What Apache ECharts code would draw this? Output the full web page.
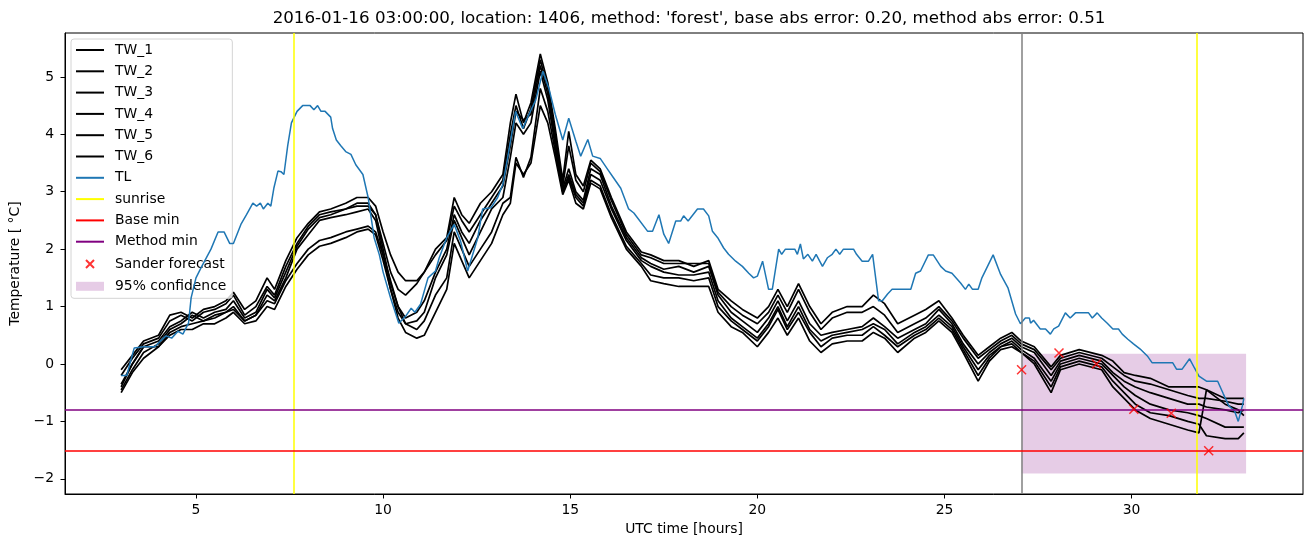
<!DOCTYPE html>
<html><head><meta charset="utf-8">
<script src="https://cdn.jsdelivr.net/npm/echarts@6/dist/echarts.min.js"></script>
<style>html,body{margin:0;padding:0;background:#fff}#c{width:1313px;height:547px}</style>
</head><body><div id="c"></div>
<script>
// ---------- data ----------
const titleText = "2016-01-16 03:00:00, location: 1406, method: 'forest', base abs error: 0.20, method abs error: 0.51";
const xTicks = [5, 10, 15, 20, 25, 30];
const yTicks = [-2, -1, 0, 1, 2, 3, 4, 5];

const twTime = [3.0,3.3,3.6,4.0,4.3,4.6,4.9,5.2,5.5,5.8,6.0,6.3,6.6,6.9,7.1,7.4,7.7,8.0,8.3,8.6,9.0,9.3,9.6,9.8,10.0,10.2,10.4,10.6,10.9,11.1,11.4,11.7,11.9,12.1,12.3,12.6,12.9,13.2,13.4,13.55,13.75,13.95,14.2,14.4,14.6,14.8,14.96,15.15,15.35,15.55,15.8,16.1,16.5,16.9,17.15,17.5,17.9,18.3,18.7,18.95,19.3,19.6,20.0,20.3,20.55,20.8,21.1,21.4,21.7,22.0,22.4,22.8,23.1,23.4,23.75,24.2,24.5,24.85,25.2,25.5,25.9,26.2,26.5,26.8,27.05,27.4,27.85,28.1,28.6,29.2,29.5,29.8,30.1,30.5,31.0,31.5,31.8,32.0,32.5,32.85,33.0];
const tw1 = [-0.1,0.15,0.4,0.5,0.85,0.9,0.8,0.95,1.0,1.1,1.25,0.95,1.1,1.5,1.3,1.8,2.2,2.45,2.65,2.7,2.8,2.9,2.9,2.75,2.3,1.9,1.6,1.45,1.45,1.6,2.0,2.2,2.9,2.6,2.45,2.8,3.0,3.3,4.2,4.7,4.2,4.55,5.4,4.9,4.1,3.2,4.05,3.3,3.1,3.55,3.4,2.9,2.3,1.95,1.9,1.8,1.8,1.7,1.8,1.3,1.1,0.95,0.8,1.0,1.3,1.0,1.4,1.0,0.7,0.9,1.0,1.0,1.2,1.05,0.7,0.85,0.95,1.1,0.8,0.5,0.15,0.3,0.45,0.55,0.4,0.3,-0.05,0.15,0.25,0.15,0.05,-0.15,-0.2,-0.25,-0.4,-0.4,-0.4,-0.45,-0.6,-0.6,-0.6];
const tw2 = [-0.2,0.1,0.35,0.45,0.75,0.85,0.75,0.9,0.95,1.05,1.2,0.85,1.0,1.35,1.2,1.7,2.1,2.4,2.6,2.65,2.7,2.8,2.8,2.6,2.1,1.6,1.3,1.2,1.4,1.6,1.9,2.15,2.75,2.5,2.3,2.6,2.9,3.2,4.0,4.5,4.1,4.45,5.3,4.8,4.0,3.1,3.8,3.2,3.0,3.5,3.35,2.85,2.25,1.9,1.85,1.75,1.75,1.75,1.75,1.25,1.0,0.85,0.7,0.9,1.2,0.9,1.3,0.9,0.6,0.8,0.9,0.9,1.0,0.85,0.55,0.7,0.8,1.0,0.75,0.45,0.1,0.25,0.4,0.5,0.35,0.25,-0.1,0.1,0.2,0.1,-0.05,-0.2,-0.3,-0.35,-0.45,-0.55,-0.6,-0.6,-0.65,-0.7,-0.7];
const tw3 = [-0.35,0.0,0.3,0.4,0.65,0.75,0.9,0.8,0.9,0.95,1.1,0.8,0.9,1.3,1.15,1.6,2.05,2.35,2.55,2.6,2.7,2.75,2.75,2.6,2.0,1.4,1.0,0.8,0.9,1.1,1.6,2.0,2.6,2.3,2.1,2.5,2.8,3.1,3.8,4.4,4.25,4.35,5.2,4.7,3.9,3.05,3.4,3.0,2.85,3.4,3.3,2.75,2.2,1.85,1.75,1.65,1.7,1.6,1.7,1.2,0.9,0.75,0.55,0.8,1.1,0.75,1.1,0.7,0.5,0.55,0.6,0.65,0.8,0.65,0.45,0.6,0.7,0.95,0.7,0.35,0.0,0.2,0.35,0.45,0.3,0.2,-0.2,0.05,0.15,0.05,-0.15,-0.3,-0.4,-0.5,-0.6,-0.7,-0.7,-0.75,-0.8,-0.85,-0.8];
const tw4 = [-0.45,-0.1,0.2,0.35,0.6,0.7,0.85,0.75,0.85,0.9,0.95,0.75,0.85,1.2,1.1,1.5,2.0,2.25,2.5,2.55,2.6,2.65,2.7,2.5,1.9,1.3,0.9,0.7,0.75,0.9,1.5,1.9,2.5,2.2,1.9,2.3,2.7,2.9,3.6,4.2,4.0,4.2,5.1,4.6,3.8,3.0,3.3,2.95,2.8,3.3,3.2,2.7,2.15,1.8,1.7,1.6,1.55,1.55,1.6,1.1,0.8,0.65,0.45,0.7,1.0,0.65,1.0,0.6,0.4,0.5,0.55,0.6,0.7,0.6,0.35,0.55,0.65,0.85,0.65,0.3,-0.1,0.15,0.3,0.4,0.25,0.1,-0.3,0.0,0.1,0.0,-0.2,-0.4,-0.55,-0.7,-0.8,-0.85,-0.9,-0.95,-1.1,-1.1,-1.1];
const tw5 = [-0.4,0.0,0.3,0.3,0.55,0.65,0.7,0.75,0.8,0.9,1.0,0.75,0.85,1.1,1.05,1.45,1.75,2.0,2.15,2.2,2.3,2.35,2.4,2.3,1.9,1.45,1.0,0.7,0.6,0.75,1.2,1.5,2.3,2.0,1.7,2.0,2.3,2.8,2.9,3.6,3.25,3.6,4.8,4.4,3.7,3.0,3.25,2.9,2.75,3.2,3.1,2.6,2.05,1.75,1.55,1.5,1.5,1.45,1.5,1.0,0.75,0.6,0.4,0.65,0.95,0.6,0.9,0.55,0.3,0.45,0.5,0.5,0.65,0.5,0.3,0.5,0.6,0.8,0.6,0.25,-0.2,0.1,0.3,0.35,0.2,0.05,-0.4,-0.05,0.05,-0.05,-0.3,-0.5,-0.7,-0.85,-0.9,-1.0,-1.05,-1.25,-1.3,-1.3,-1.2];
const tw6 = [-0.5,-0.15,0.1,0.3,0.5,0.6,0.6,0.7,0.7,0.8,0.9,0.7,0.75,1.0,0.95,1.35,1.65,1.9,2.05,2.1,2.2,2.3,2.35,2.25,1.8,1.3,0.8,0.55,0.45,0.5,0.9,1.3,2.1,1.8,1.5,1.8,2.1,2.6,2.8,3.5,3.3,3.5,4.5,4.2,3.6,2.95,3.2,2.8,2.7,3.15,3.05,2.55,2.0,1.7,1.45,1.4,1.35,1.35,1.35,0.9,0.65,0.55,0.3,0.55,0.8,0.5,0.8,0.4,0.2,0.35,0.4,0.4,0.55,0.45,0.2,0.45,0.55,0.75,0.55,0.2,-0.3,0.05,0.25,0.3,0.2,0.0,-0.5,-0.1,0.0,-0.1,-0.4,-0.6,-0.8,-0.95,-1.05,-1.15,-1.2,-0.45,-0.7,-0.8,-0.9];

const tlTime = [3.0,3.15,3.35,3.6,3.9,4.05,4.2,4.35,4.52,4.65,4.8,4.87,5.0,5.13,5.4,5.59,5.75,5.9,6.0,6.2,6.35,6.52,6.62,6.72,6.8,6.92,7.0,7.08,7.19,7.27,7.35,7.45,7.55,7.7,7.85,8.05,8.15,8.25,8.34,8.45,8.6,8.65,8.75,8.87,9.0,9.14,9.27,9.46,9.6,9.76,9.9,10.0,10.2,10.42,10.6,10.75,10.85,11.0,11.2,11.4,11.5,11.7,11.9,12.07,12.26,12.53,12.66,12.88,13.06,13.2,13.33,13.54,13.73,13.9,14.08,14.27,14.43,14.6,14.8,14.96,15.15,15.28,15.47,15.6,15.8,16.0,16.16,16.35,16.56,16.7,17.07,17.2,17.37,17.5,17.63,17.82,17.95,18.03,18.15,18.4,18.56,18.7,18.8,18.94,19.1,19.23,19.42,19.6,19.77,19.9,20.0,20.14,20.3,20.4,20.57,20.65,20.75,21.0,21.07,21.15,21.23,21.35,21.47,21.57,21.74,21.87,22.0,22.1,22.2,22.3,22.57,22.65,22.8,22.97,23.08,23.24,23.34,23.48,23.6,24.1,24.23,24.36,24.57,24.7,24.9,25.03,25.2,25.43,25.56,25.65,25.75,25.9,26.0,26.3,26.5,26.7,26.9,27.03,27.16,27.27,27.3,27.38,27.56,27.7,27.83,27.92,28.05,28.23,28.36,28.5,28.85,28.95,29.08,29.2,29.35,29.5,29.65,29.75,29.9,30.05,30.23,30.42,30.55,31.1,31.2,31.35,31.55,31.68,31.8,32.0,32.3,32.45,32.6,32.75,32.85,32.96,33.0];
const tlValue = [-0.2,-0.2,0.28,0.3,0.3,0.4,0.49,0.45,0.57,0.52,0.71,1.15,1.5,1.67,2.0,2.3,2.3,2.1,2.1,2.43,2.6,2.8,2.75,2.8,2.7,2.8,2.75,3.06,3.36,3.35,3.3,3.8,4.2,4.4,4.5,4.5,4.43,4.5,4.4,4.4,4.3,4.1,3.9,3.8,3.7,3.65,3.47,3.3,2.9,2.2,1.9,1.6,1.15,0.71,0.83,0.97,0.9,1.04,1.5,1.62,1.85,2.2,2.43,2.14,1.62,2.2,2.7,2.72,2.9,3.13,3.6,4.4,4.1,4.35,4.6,5.1,4.8,4.35,3.9,4.28,3.88,3.62,3.91,3.62,3.58,3.39,3.24,3.06,2.7,2.63,2.31,2.31,2.6,2.26,2.1,2.49,2.49,2.58,2.49,2.7,2.7,2.58,2.31,2.2,2.02,1.91,1.79,1.7,1.58,1.5,1.53,1.79,1.3,1.3,2.0,1.91,2.0,2.0,1.91,2.09,1.83,1.91,1.79,1.91,1.7,1.85,1.91,2.0,1.91,2.0,2.0,1.91,1.79,1.79,1.91,1.1,1.1,1.22,1.3,1.3,1.58,1.62,1.9,1.9,1.7,1.62,1.58,1.41,1.3,1.39,1.3,1.3,1.5,1.9,1.56,1.32,0.87,0.7,0.8,0.8,0.71,0.76,0.61,0.61,0.52,0.61,0.66,0.89,0.8,0.89,0.89,0.8,0.89,0.8,0.71,0.61,0.61,0.52,0.43,0.35,0.26,0.14,0.02,0.02,-0.09,-0.09,0.09,-0.07,-0.21,-0.3,-0.3,-0.52,-0.73,-0.82,-1.0,-0.73,-0.6];

const sunriseTimes = [7.62, 31.73];
const nowTime = 27.06;
const baseMin = -1.51;
const methodMin = -0.8;
const sanderTime = [27.06, 28.06, 29.06, 30.06, 31.06, 32.06];
const sanderValue = [-0.1, 0.19, 0.0, -0.79, -0.86, -1.51];
const confStart = 27.06, confEnd = 33.06, confLow = -1.91, confHigh = 0.18;

// ---------- chart ----------
const FONT = 'DejaVu Sans';
const LINE_ICON = 'path://M0,0H28V2H0Z';
const zip = (xs, ys) => xs.map((x, i) => [x, ys[i]]);
const twSeries = [tw1, tw2, tw3, tw4, tw5, tw6].map((vals, i) => ({
  name: 'TW_' + (i + 1), type: 'line', data: zip(twTime, vals),
  symbol: 'none', z: 3,
  lineStyle: { color: '#000', width: 1.7 }, itemStyle: { color: '#000' }
}));

const mlBase = { silent: true, symbol: ['none', 'none'], label: { show: false }, animation: false };

const option = {
  animation: false,
  title: {
    text: titleText, left: 684, top: 5, textAlign: 'center',
    textStyle: { fontFamily: FONT, fontSize: 16.7, fontWeight: 'normal', color: '#000' }
  },
  grid: { left: 65, right: 10, top: 33, bottom: 53, show: true, borderColor: '#000', borderWidth: 1, backgroundColor: 'transparent' },
  xAxis: {
    type: 'value', min: 1.5, max: 34.58,
    name: 'UTC time [hours]', nameLocation: 'middle', nameGap: 28,
    nameTextStyle: { fontFamily: FONT, fontSize: 13.9, color: '#000' },
    axisLine: { show: true, onZero: false, lineStyle: { color: '#000', width: 1 } },
    axisTick: { show: true, customValues: xTicks, length: 4.5, lineStyle: { color: '#000', width: 1 } },
    axisLabel: { customValues: xTicks, margin: 9, fontFamily: FONT, fontSize: 13.9, color: '#000' },
    splitLine: { show: false }
  },
  yAxis: {
    type: 'value', min: -2.265, max: 5.765,
    name: 'Temperature [ \u00b0C]', nameLocation: 'middle', nameGap: 37, nameRotate: 90,
    nameTextStyle: { fontFamily: FONT, fontSize: 13.9, color: '#000' },
    axisLine: { show: true, onZero: false, lineStyle: { color: '#000', width: 1 } },
    axisTick: { show: true, customValues: yTicks, length: 4.5, lineStyle: { color: '#000', width: 1 } },
    axisLabel: { customValues: yTicks, margin: 11, fontFamily: FONT, fontSize: 13.9, color: '#000',
      formatter: v => (v < 0 ? '\u2212' : '') + Math.abs(v) },
    splitLine: { show: false }
  },
  legend: {
    orient: 'vertical', left: 71, top: 39,
    padding: [4, 6, 5, 4], itemWidth: 28, itemHeight: 14, itemGap: 7.3,
    backgroundColor: 'rgba(255,255,255,0.8)', borderColor: '#d4d4d4', borderWidth: 1, borderRadius: 3,
    textStyle: { fontFamily: FONT, fontSize: 13.9, color: '#000', lineHeight: 14, padding: [0, 0, 0, 6] },
    data: [
      { name: 'TW_1', icon: LINE_ICON }, { name: 'TW_2', icon: LINE_ICON }, { name: 'TW_3', icon: LINE_ICON },
      { name: 'TW_4', icon: LINE_ICON }, { name: 'TW_5', icon: LINE_ICON }, { name: 'TW_6', icon: LINE_ICON },
      { name: 'TL', icon: LINE_ICON }, { name: 'sunrise', icon: LINE_ICON },
      { name: 'Base min', icon: LINE_ICON }, { name: 'Method min', icon: LINE_ICON },
      { name: 'Sander forecast', icon: 'path://M0,0M28,14M10,3L18,11M18,3L10,11' },
      { name: '95% confidence', icon: 'path://M0,0H28V9H0Z' }]
  },
  series: [
    {
      name: '95% confidence', type: 'custom', z: 1,
      data: [[confStart, confEnd, confLow, confHigh]],
      encode: { x: [0, 1], y: [2, 3] },
      itemStyle: { color: 'rgba(128,0,128,0.2)' },
      renderItem: function (params, api) {
        const p0 = api.coord([api.value(0), api.value(3)]);
        const p1 = api.coord([api.value(1), api.value(2)]);
        return { type: 'rect', shape: { x: p0[0], y: p0[1], width: p1[0] - p0[0], height: p1[1] - p0[1] }, style: api.style() };
      }
    },
    {
      name: 'now', type: 'line', data: [], z: 2,
      lineStyle: { color: 'gray' },
      markLine: Object.assign({}, mlBase, { lineStyle: { color: '#808080', width: 1.5, type: 'solid' }, data: [{ xAxis: nowTime }] })
    },
    ...twSeries,
    {
      name: 'TL', type: 'line', data: zip(tlTime, tlValue), symbol: 'none', z: 4,
      lineStyle: { color: '#1f77b4', width: 1.5 }, itemStyle: { color: '#1f77b4' }
    },
    {
      name: 'sunrise', type: 'line', data: [], z: 5, symbol: 'none',
      lineStyle: { color: '#ffff00', width: 1.5 }, itemStyle: { color: '#ffff00' },
      markLine: Object.assign({}, mlBase, { lineStyle: { color: '#ffff00', width: 1.5, type: 'solid' }, data: sunriseTimes.map(t => ({ xAxis: t })) })
    },
    {
      name: 'Base min', type: 'line', data: [], z: 5, symbol: 'none',
      lineStyle: { color: '#ff0000', width: 1.5 }, itemStyle: { color: '#ff0000' },
      markLine: Object.assign({}, mlBase, { lineStyle: { color: '#ff0000', width: 1.5, type: 'solid' }, data: [{ yAxis: baseMin }] })
    },
    {
      name: 'Method min', type: 'line', data: [], z: 5, symbol: 'none',
      lineStyle: { color: '#800080', width: 1.5 }, itemStyle: { color: '#800080' },
      markLine: Object.assign({}, mlBase, { lineStyle: { color: '#800080', width: 1.5, type: 'solid' }, data: [{ yAxis: methodMin }] })
    },
    {
      name: 'Sander forecast', type: 'scatter', z: 6,
      data: zip(sanderTime, sanderValue),
      symbol: 'path://M0,0L10,10M10,0L0,10', symbolSize: 9,
      itemStyle: { color: '#ff0000', borderColor: '#ff0000', borderWidth: 1.5 }
    }
  ]
};
const chart = echarts.init(document.getElementById('c'), null, { renderer: 'canvas' });
chart.setOption(option);
</script>
</body></html>
